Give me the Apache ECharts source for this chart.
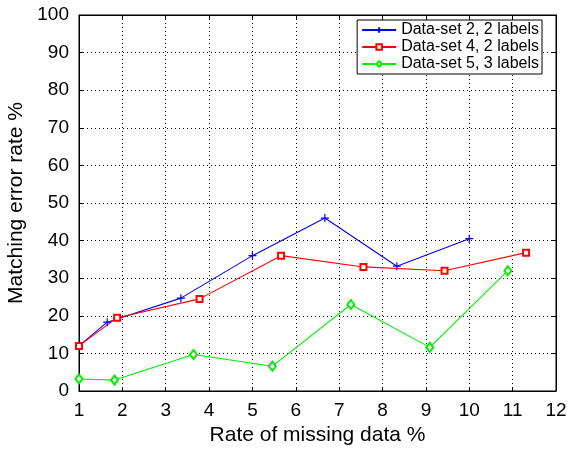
<!DOCTYPE html>
<html><head><meta charset="utf-8">
<script src="https://cdn.jsdelivr.net/npm/echarts@6/dist/echarts.min.js"></script>
<style>html,body{margin:0;padding:0;background:#fff}#c{width:569px;height:452px}</style>
</head><body><div id="c"></div>
<script>
const set2X = [1, 1.65, 3.35, 5, 6.67, 8.33, 10];
const set2Y = [12, 18.3, 24.7, 36, 46, 33.2, 40.5];
const set4X = [1, 1.88, 3.78, 5.66, 7.56, 9.43, 11.31];
const set4Y = [12, 19.5, 24.5, 36, 33, 32, 36.8];
const set5X = [1, 1.82, 3.64, 5.46, 7.27, 9.09, 10.89];
const set5Y = [3.2, 2.9, 9.7, 6.6, 23, 11.6, 32];
const names = ['Data-set 2, 2 labels', 'Data-set 4, 2 labels', 'Data-set 5, 3 labels'];
const xName = 'Rate of missing data %';
const yName = 'Matching error rate %';

const font = 'Liberation Sans, Arial, Helvetica, sans-serif';
const zip = (xs, ys) => xs.map((x, i) => [x, ys[i]]);
const plus = 'path://M0,-5 L0,5 M-5,0 L5,0';

const chart = echarts.init(document.getElementById('c'));
const gridStyle = {show: true, lineStyle: {color: '#000', type: [1, 3], width: 1}};
chart.setOption({
  animation: false,
  backgroundColor: '#fff',
  grid: {left: 79, right: 13, top: 15, bottom: 61, containLabel: false, outerBoundsMode: 'none',
         show: true, borderColor: '#000', borderWidth: 1},
  xAxis: [{
    type: 'value', min: 1, max: 12, interval: 1, position: 'bottom',
    name: xName, nameLocation: 'middle', nameGap: 28,
    nameTextStyle: {fontFamily: font, fontSize: 21, color: '#000'},
    axisLine: {show: true, onZero: false, lineStyle: {color: '#000', width: 1}},
    axisTick: {show: true, inside: true, length: 4, lineStyle: {color: '#000'}},
    axisLabel: {fontFamily: font, fontSize: 19, color: '#000', margin: 10},
    splitLine: gridStyle
  }, {
    type: 'value', min: 1, max: 12, interval: 1, position: 'top',
    axisLine: {show: true, onZero: false, lineStyle: {color: '#000'}},
    axisTick: {show: true, inside: true, length: 4, lineStyle: {color: '#000'}},
    axisLabel: {show: false}, splitLine: {show: false}
  }],
  yAxis: [{
    type: 'value', min: 0, max: 100, interval: 10, position: 'left',
    name: yName, nameLocation: 'middle', nameGap: 51,
    nameTextStyle: {fontFamily: font, fontSize: 21, color: '#000'},
    axisLine: {show: true, onZero: false, lineStyle: {color: '#000', width: 1}},
    axisTick: {show: true, inside: true, length: 4, lineStyle: {color: '#000'}},
    axisLabel: {fontFamily: font, fontSize: 19, color: '#000', margin: 10},
    splitLine: gridStyle
  }, {
    type: 'value', min: 0, max: 100, interval: 10, position: 'right',
    axisLine: {show: true, onZero: false, lineStyle: {color: '#000'}},
    axisTick: {show: true, inside: true, length: 4, lineStyle: {color: '#000'}},
    axisLabel: {show: false}, splitLine: {show: false}
  }],
  legend: {
    right: 27, top: 20, orient: 'vertical',
    backgroundColor: '#fff', borderColor: '#000', borderWidth: 1,
    padding: [2, 3, 2, 4], itemGap: 1, itemWidth: 34, itemHeight: 7,
    textStyle: {fontFamily: font, fontSize: 16, color: '#000'},
    data: names
  },
  series: [{
    name: names[0], type: 'line', data: zip(set2X, set2Y),
    symbol: plus, symbolSize: 8,
    lineStyle: {color: '#0000ff', width: 1.1},
    itemStyle: {color: '#0000ff', borderColor: '#0000ff', borderWidth: 1.2}
  }, {
    name: names[1], type: 'line', data: zip(set4X, set4Y),
    symbol: 'emptyRect', symbolSize: 6,
    lineStyle: {color: '#ff0000', width: 1.1},
    itemStyle: {color: '#ff0000', borderColor: '#ff0000', borderWidth: 1.1}
  }, {
    name: names[2], type: 'line', data: zip(set5X, set5Y),
    symbol: 'emptyDiamond', symbolSize: [7, 9],
    lineStyle: {color: '#00ee00', width: 1.1},
    itemStyle: {color: '#00ee00', borderColor: '#00ee00', borderWidth: 1.1}
  }]
});
</script></body></html>
